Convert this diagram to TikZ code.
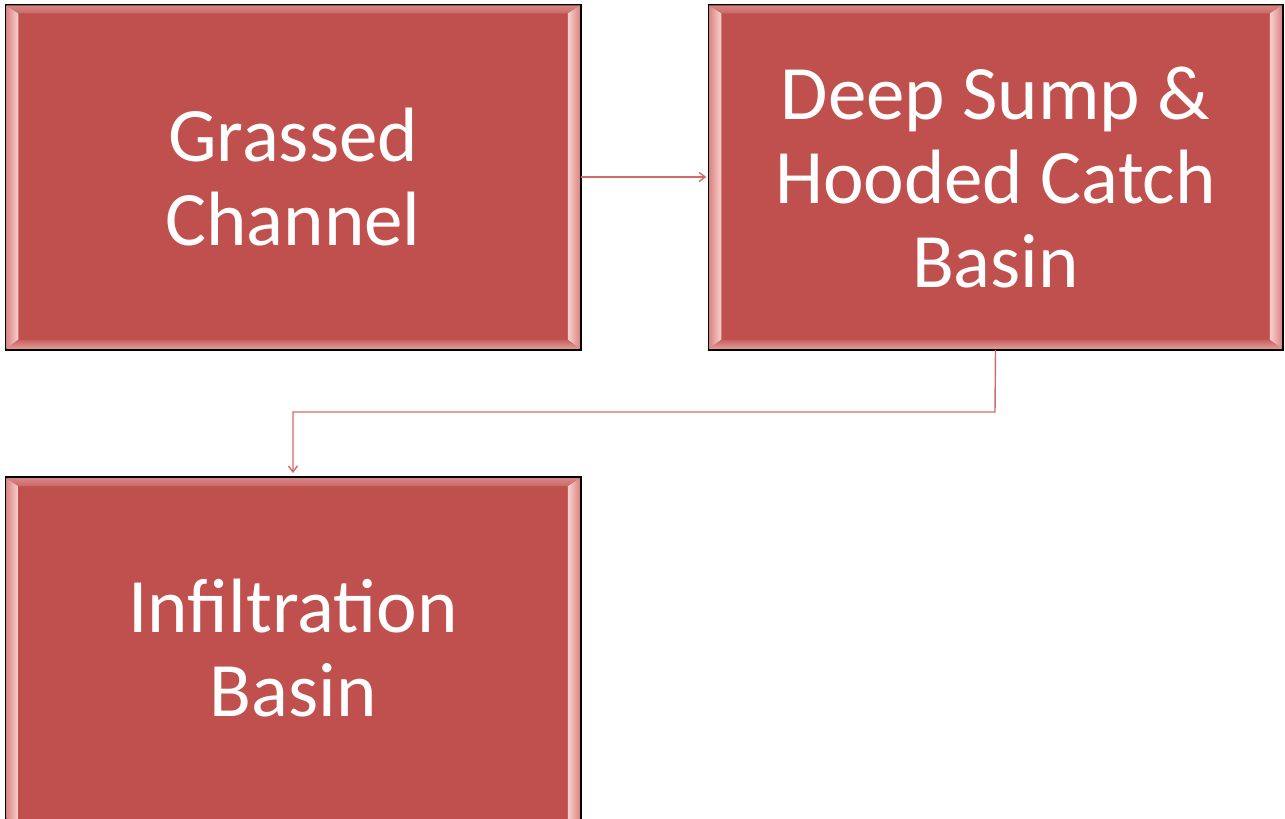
\documentclass[tikz,border=0pt]{standalone}
\usepackage{fontspec}
\setmainfont{Carlito}
\usetikzlibrary{arrows.meta}
\definecolor{boxred}{HTML}{C0504D}
\definecolor{bevhi}{HTML}{FAD2D0}
\definecolor{bevmid}{HTML}{D98583}
\definecolor{linkred}{HTML}{D06A68}
\tikzset{
  x=1pt,y=-1pt,
  flowbox/.style={draw=black,line width=1.5pt,fill=boxred,inner sep=0pt,
    text=white,font=\fontsize{77}{84}\selectfont,align=center},
  boxtext/.style={text=white,font=\fontsize{77}{84}\selectfont,align=center},
  link/.style={draw=linkred,line width=1.4pt,-{Straight Barb[length=6pt,width=9pt]}}
}
\begin{document}
\begin{tikzpicture}
\useasboundingbox (0,0) rectangle (1285,819);
\fill[white] (0,0) rectangle (1285,819);
\begin{scope}
\clip (0,0) rectangle (1285,819);
% boxes
\node[flowbox,minimum width=574pt,minimum height=344pt] (a) at (293,177) {};
\node[flowbox,minimum width=573pt,minimum height=344pt] (b) at (995.5,177) {};
\node[flowbox,minimum width=574pt,minimum height=360pt,anchor=north] (c) at (293,477) {};
% bevels
\foreach \n in {a,b,c}{
  % left
  \shade[left color=bevmid,right color=bevhi]
    ([xshift=1pt,yshift=-1pt]\n.north west) -- ([xshift=13pt,yshift=-9pt]\n.north west)
    -- ([xshift=13pt,yshift=10pt]\n.south west) -- ([xshift=1pt,yshift=1pt]\n.south west) -- cycle;
  % right
  \shade[left color=bevhi,right color=bevmid]
    ([xshift=-1pt,yshift=-1pt]\n.north east) -- ([xshift=-13pt,yshift=-9pt]\n.north east)
    -- ([xshift=-13pt,yshift=10pt]\n.south east) -- ([xshift=-1pt,yshift=1pt]\n.south east) -- cycle;
  % top
  \shade[top color=bevmid,bottom color=boxred!85!white]
    ([xshift=1pt,yshift=-1pt]\n.north west) -- ([xshift=13pt,yshift=-9pt]\n.north west)
    -- ([xshift=-13pt,yshift=-9pt]\n.north east) -- ([xshift=-1pt,yshift=-1pt]\n.north east) -- cycle;
  % bottom
  \shade[top color=boxred!90!white,bottom color=bevmid!70!bevhi]
    ([xshift=1pt,yshift=1pt]\n.south west) -- ([xshift=13pt,yshift=10pt]\n.south west)
    -- ([xshift=-13pt,yshift=10pt]\n.south east) -- ([xshift=-1pt,yshift=1pt]\n.south east) -- cycle;
  \draw[black,line width=1.5pt] (\n.north west) rectangle (\n.south east);
}
\end{scope}
% texts
\node[boxtext] (at) at (a.center) {Grassed\\Channel};
\node[boxtext] (bt) at (b.center) {Deep Sump \&\\Hooded Catch\\Basin};
\node[boxtext] (ct) at (293,648) {Infiltration\\Basin};
% connectors
\draw[link] (a.east) -- ([xshift=-2pt]b.west);
\coordinate (k1) at (995,412);
\coordinate (k2) at (293,412);
\draw[link] (b.south) -- (k1) -- (k2) -- ([yshift=4pt]c.north);
\end{tikzpicture}
\end{document}
